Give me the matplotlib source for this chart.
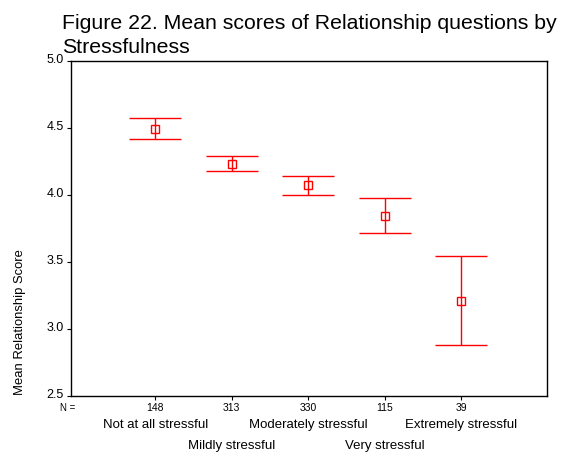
import matplotlib
matplotlib.use("Agg")
import matplotlib.pyplot as plt
import matplotlib.transforms as mtransforms

plt.rcParams['font.family'] = ['Liberation Sans', 'DejaVu Sans']

categories = ["Not at all stressful", "Mildly stressful", "Moderately stressful",
              "Very stressful", "Extremely stressful"]
counts = [148, 313, 330, 115, 39]
means = [4.495, 4.232, 4.072, 3.843, 3.211]
ci_low = [4.416, 4.181, 4.000, 3.714, 2.878]
ci_high = [4.577, 4.289, 4.144, 3.975, 3.545]
yticks = [2.5, 3.0, 3.5, 4.0, 4.5, 5.0]

fig = plt.figure(figsize=(5.76, 4.57), dpi=100)
ax = fig.add_axes([71/576, 1-396/457, 476/576, 335/457])

xs = list(range(1, len(categories) + 1))
err_lo = [m - lo for m, lo in zip(means, ci_low)]
err_hi = [hi - m for m, hi in zip(means, ci_high)]
ax.errorbar(xs, means, yerr=[err_lo, err_hi], fmt='s', color='#ff0000',
            ecolor='#ff0000', elinewidth=1, capsize=18.7, capthick=1,
            markersize=6, markerfacecolor='none', markeredgecolor='#ff0000',
            markeredgewidth=1)

ax.set_xlim(-0.1, 6.12)
ax.set_ylim(2.5, 5.0)
ax.set_yticks(yticks)
ax.set_yticklabels([f"{v:.1f}" for v in yticks], fontsize=9)
ax.set_xticks(xs)
ax.set_xticklabels([])
ax.tick_params(axis='y', direction='out', length=3, width=0.8, pad=2)
ax.tick_params(axis='x', direction='out', length=3, width=0.8)
for s in ax.spines.values():
    s.set_linewidth(1.0)
    s.set_color('black')

# tick labels sit a little above their ticks
shift = mtransforms.ScaledTranslation(0, 1.5/72, fig.dpi_scale_trans)
for lab in ax.get_yticklabels():
    lab.set_transform(lab.get_transform() + shift)

# N counts and category names below the axis
trans = mtransforms.blended_transform_factory(ax.transData, fig.transFigure)
fig.text(68/576, 1-408/457, "N =", fontsize=7, ha='center', va='center')
for x, n in zip(xs, counts):
    ax.text(x, 1-408/457, str(n), fontsize=7.5, ha='center', va='center',
            transform=trans)
for i, (x, name) in enumerate(zip(xs, categories)):
    y = 1-425/457 if i % 2 == 0 else 1-446/457
    ax.text(x, y, name, fontsize=9.5, ha='center', va='center', transform=trans)

fig.text(20/576, 1-322/457, "Mean Relationship Score", fontsize=9.4,
         rotation=90, ha='center', va='center')

fig.text(62/576, 1-14/457,
         "Figure 22. Mean scores of Relationship questions by\nStressfulness",
         fontsize=15.3, ha='left', va='top', linespacing=1.32)

fig.savefig("out.png", dpi=100)
